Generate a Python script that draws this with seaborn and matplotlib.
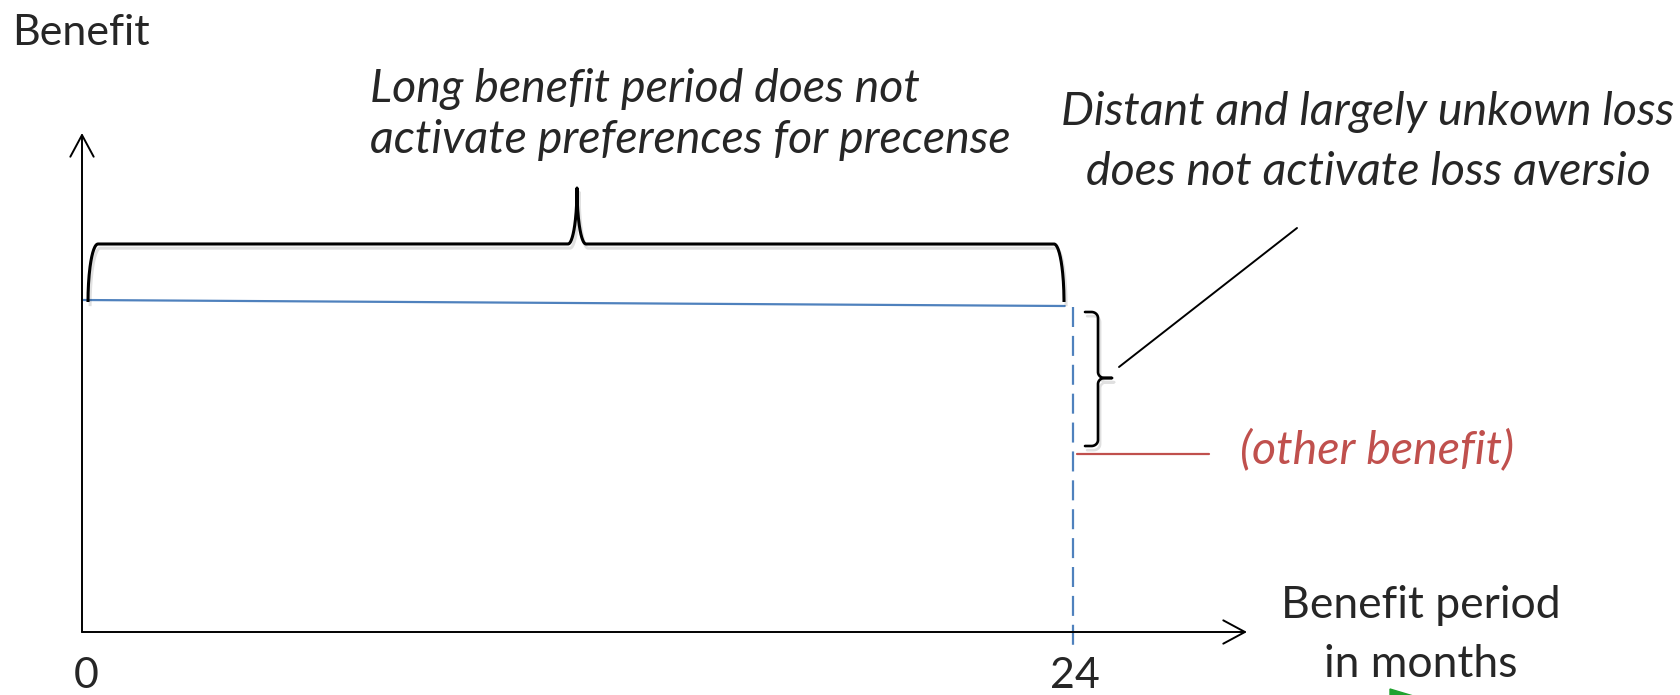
import numpy as np
import matplotlib
matplotlib.use("Agg")
import matplotlib.pyplot as plt
import matplotlib.patheffects as pe
import seaborn as sns
import pandas as pd

sns.set_theme(style="white")
plt.rcParams['font.family'] = ['Lato', 'DejaVu Sans']

# ---- data ----
months = [0, 23.8]            # benefit period (months)
benefit = [66.4, 65.2]        # benefit level over the period
period_end = 24               # end of benefit period
other_benefit = 35.6          # level of the other benefit
other_benefit_span = [24.1, 27.3]
tick_values = [0, 24]
tick_labels = ["0", "24"]

BLUE = "#4F81BD"
RED = "#C0504D"

# pixel <-> data mapping helpers (figure is 1681x695 px)
W, H = 1681, 695
X0PX, XSCALE = 82, 41.29      # px of month 0, px per month
Y0PX, YSCALE = 632, 5.0       # px of benefit 0, px per unit

def dx(px):
    return (px - X0PX) / XSCALE

def dy(py):
    return (Y0PX - py) / YSCALE

fig = plt.figure(figsize=(W / 100, H / 100), dpi=100)
ax = fig.add_axes([0, 0, 1, 1])
ax.set_xlim(dx(0), dx(W))
ax.set_ylim(dy(H), dy(0))
ax.axis("off")

# ---- axes with arrows ----
arrow_kw = dict(arrowstyle="->,head_length=1.3,head_width=0.7", lw=1.4,
                color="black", shrinkA=0, shrinkB=0)
ax.annotate("", xy=(dx(1247), 0), xytext=(0, 0), arrowprops=arrow_kw)
ax.annotate("", xy=(0, dy(133)), xytext=(0, 0), arrowprops=arrow_kw)

# ---- benefit line ----
df = pd.DataFrame({"month": months, "benefit": benefit})
sns.lineplot(data=df, x="month", y="benefit", ax=ax, color=BLUE, lw=1.6)

# dashed end-of-period line
ax.plot([period_end, period_end], [benefit[-1] - 0.2, dy(648)], color=BLUE,
        lw=1.6, linestyle=(0, (9, 4)))

# other benefit line
ax.plot(other_benefit_span, [other_benefit, other_benefit], color=RED, lw=1.6)

# ---- top curly brace ----
def top_brace(xa, xb, ybase, ytop, ytip, xtip, crx, tiprx):
    t = np.linspace(0, np.pi / 2, 40)
    lx = xa + crx - crx * np.cos(t)
    ly = ybase + (ytop - ybase) * np.sin(t)
    tx1 = xtip - tiprx + tiprx * np.sin(t)
    ty1 = ytip - (ytip - ytop) * np.cos(t)
    tx2 = xtip + tiprx - tiprx * np.sin(t[::-1])
    ty2 = ytip - (ytip - ytop) * np.cos(t[::-1])
    rx = xb - crx + crx * np.sin(t)
    ry = ytop - (ytop - ybase) * (1 - np.cos(t))
    xs = np.concatenate([lx, tx1, tx2, rx])
    ys = np.concatenate([ly, ty1, ty2, ry])
    return xs, ys

bx, by = top_brace(dx(88), dx(1064), dy(302), dy(244), dy(188), dx(577),
                   10 / XSCALE, 9 / XSCALE)
shadow = [pe.SimpleLineShadow(offset=(1.5, -3), shadow_color="black", alpha=0.12),
          pe.Normal()]
ax.plot(bx, by, color="black", lw=2.2, solid_capstyle="butt",
        path_effects=shadow)

# ---- right bracket ----
def side_brace(xend, xline, xtip, ytop, ybot, ymid, ry):
    t = np.linspace(0, np.pi / 2, 20)
    rxd = (xline - xend) * 0.5
    ax1 = xline - rxd + rxd * np.sin(t)
    ay1 = ytop - ry + ry * np.cos(t)
    ax2 = xline + rxd * (1 - np.cos(t))
    ay2 = ymid + ry * (1 - np.sin(t))
    ax3 = xline + rxd * (1 - np.cos(t[::-1]))
    ay3 = ymid - ry * (1 - np.sin(t[::-1]))
    ax4 = xline - rxd + rxd * np.sin(t[::-1])
    ay4 = ybot + ry - ry * np.cos(t[::-1])
    xs = np.concatenate([[xend], ax1, ax2, [xtip], [xtip], ax3, ax4, [xend]])
    ys = np.concatenate([[ytop], ay1, ay2, [ymid], [ymid], ay3, ay4, [ybot]])
    return xs, ys

sx, sy = side_brace(dx(1085), dx(1098), dx(1112), dy(312), dy(446), dy(378), 1.2)
ax.plot(sx, sy, color="black", lw=1.9, path_effects=shadow)

# pointer line
ax.plot([dx(1119), dx(1297)], [dy(367), dy(228)], color="black", lw=1.4)

# small green marker peeking at the bottom
ax.fill([dx(1390), dx(1420), dx(1390)], [dy(689), dy(698), dy(702)],
        color="#1FA22E", clip_on=True)

# ---- text ----
IT = 33.5
ax.text(dx(12), dy(45), "Benefit", fontsize=31, va="baseline", ha="left")
ax.text(dx(370), dy(102), "Long benefit period does not", fontsize=IT,
        style="italic", va="baseline", ha="left")
ax.text(dx(370), dy(153), "activate preferences for precense", fontsize=IT,
        style="italic", va="baseline", ha="left")
ax.text(dx(1368), dy(125), "Distant and largely unkown loss", fontsize=IT,
        style="italic", va="baseline", ha="center")
ax.text(dx(1368), dy(185), "does not activate loss aversio", fontsize=IT,
        style="italic", va="baseline", ha="center")
ax.text(dx(1240), dy(463), "(other benefit)", fontsize=IT, style="italic",
        color=RED, va="baseline", ha="left")
ax.text(dx(1421), dy(618), "Benefit period", fontsize=32, va="baseline",
        ha="center")
ax.text(dx(1421), dy(677), "in months", fontsize=32, va="baseline",
        ha="center")
tick_offsets = [dx(86), 0.05]
for v, lab, off in zip(tick_values, tick_labels, tick_offsets):
    ax.text(v + off, dy(688), lab, fontsize=31, va="baseline", ha="center")

fig.savefig("out.png", dpi=100)
